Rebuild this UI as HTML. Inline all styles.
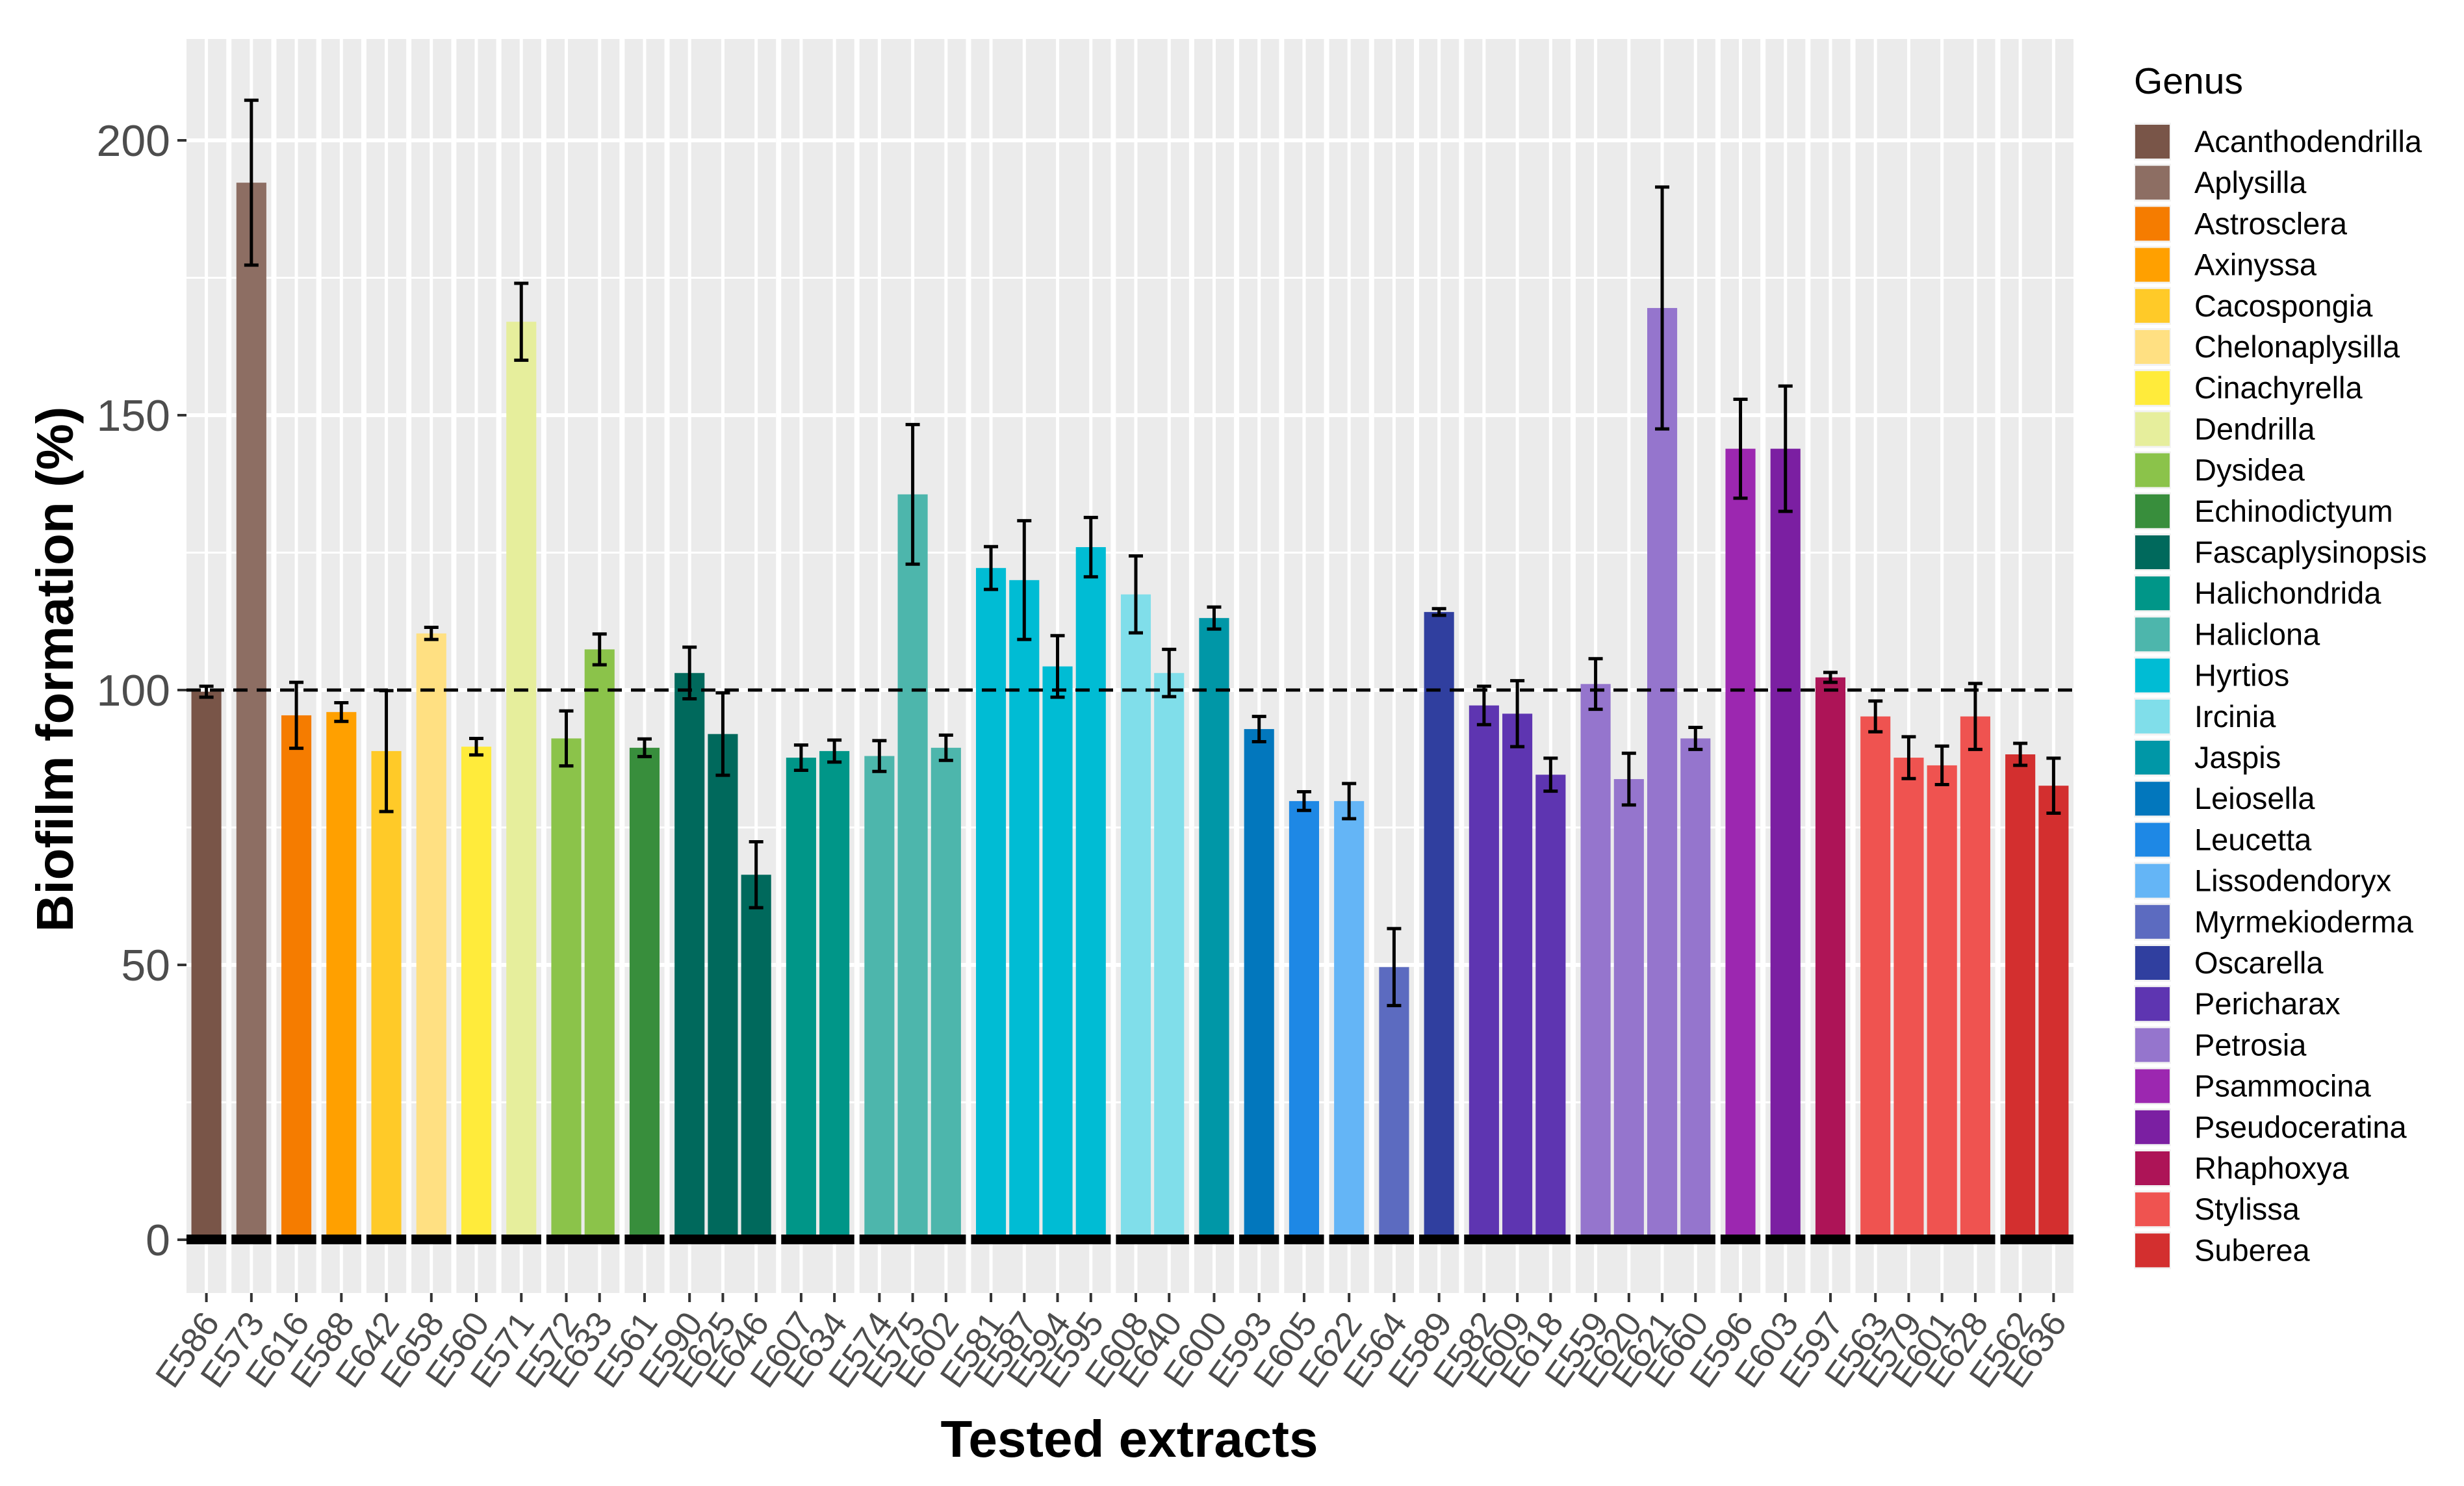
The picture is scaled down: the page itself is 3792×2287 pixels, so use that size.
<!DOCTYPE html>
<html><head><meta charset="utf-8">
<style>
html,body{margin:0;padding:0;background:#fff;}
svg{display:block;font-family:"Liberation Sans",Arial,sans-serif;}
</style></head>
<body>
<svg id="chart" width="3792" height="2287" viewBox="0 0 3792 2287" xmlns="http://www.w3.org/2000/svg"></svg>
<script>
const extracts = ["E586","E573","E616","E588","E642","E658","E560","E571","E572","E633","E561","E590","E625","E646","E607","E634","E574","E575","E602","E581","E587","E594","E595","E608","E640","E600","E593","E605","E622","E564","E589","E582","E609","E618","E559","E620","E621","E660","E596","E603","E597","E563","E579","E601","E628","E562","E636"];
const genusOf = ["Acanthodendrilla","Aplysilla","Astrosclera","Axinyssa","Cacospongia","Chelonaplysilla","Cinachyrella","Dendrilla","Dysidea","Dysidea","Echinodictyum","Fascaplysinopsis","Fascaplysinopsis","Fascaplysinopsis","Halichondrida","Halichondrida","Haliclona","Haliclona","Haliclona","Hyrtios","Hyrtios","Hyrtios","Hyrtios","Ircinia","Ircinia","Jaspis","Leiosella","Leucetta","Lissodendoryx","Myrmekioderma","Oscarella","Pericharax","Pericharax","Pericharax","Petrosia","Petrosia","Petrosia","Petrosia","Psammocina","Pseudoceratina","Rhaphoxya","Stylissa","Stylissa","Stylissa","Stylissa","Suberea","Suberea"];
const values = [99.7,192.3,95.4,96,88.9,110.3,89.7,167,91.2,107.4,89.5,103.1,92,66.4,87.7,88.9,88,135.6,89.5,122.2,120,104.3,126,117.4,103.1,113.1,92.9,79.8,79.8,49.6,114.2,97.2,95.7,84.6,101.1,83.8,169.5,91.2,143.9,143.9,102.3,95.2,87.7,86.3,95.2,88.3,82.6];
const errors = [1,15,6,1.7,11,1.1,1.5,7,5,2.8,1.6,4.7,7.5,6,2.3,2,2.8,12.7,2.3,3.9,10.8,5.6,5.4,7,4.3,2,2.3,1.7,3.2,7,0.6,3.5,6,3,4.6,4.7,22,2,9,11.4,0.9,2.8,3.8,3.5,6,2,5];
const genera = ["Acanthodendrilla","Aplysilla","Astrosclera","Axinyssa","Cacospongia","Chelonaplysilla","Cinachyrella","Dendrilla","Dysidea","Echinodictyum","Fascaplysinopsis","Halichondrida","Haliclona","Hyrtios","Ircinia","Jaspis","Leiosella","Leucetta","Lissodendoryx","Myrmekioderma","Oscarella","Pericharax","Petrosia","Psammocina","Pseudoceratina","Rhaphoxya","Stylissa","Suberea"];
const genusColors = ["#795548","#8D6E63","#F57C00","#FFA000","#FFCA28","#FFE082","#FFEB3B","#E6EE9C","#8BC34A","#388E3C","#00695C","#009688","#4DB6AC","#00BCD4","#80DEEA","#0097A7","#0277BD","#1E88E5","#64B5F6","#5C6BC0","#303F9F","#5E35B1","#9575CD","#9C27B0","#7B1FA2","#AD1457","#EF5350","#D32F2F"];
const yTicks = [0,50,100,150,200];
const yMinor = [25,75,125,175];
const refLine = 100;

const NS="http://www.w3.org/2000/svg";
const svg=document.getElementById('chart');
function mk(tag,attrs,parent){const e=document.createElementNS(NS,tag);for(const k in attrs)e.setAttribute(k,attrs[k]);(parent||svg).appendChild(e);return e;}

const panelL=287,panelR=3191,panelT=60,panelB=1990;
const y0px=1908,y200px=216;
function yScale(v){return y0px-(v/200)*(y0px-y200px);}

const facets=[];
extracts.forEach((e,i)=>{const g=genusOf[i];if(!facets.length||facets[facets.length-1].g!==g)facets.push({g:g,idx:[]});facets[facets.length-1].idx.push(i);});
const gap=8,pad=5;
const u=(panelR-panelL-(facets.length-1)*gap-facets.length*2*pad)/extracts.length;
const centers=[];
let cur=panelL;
facets.forEach(f=>{f.x0=cur;f.w=f.idx.length*u+2*pad;f.idx.forEach((i,k)=>{centers[i]=cur+pad+(k+0.5)*u;});cur+=f.w+gap;});
function colorOf(g){return genusColors[genera.indexOf(g)];}

facets.forEach(f=>{
  const bg=mk('rect',{x:f.x0,y:panelT,width:f.w,height:panelB-panelT,fill:'#EBEBEB'});
  
  
  yMinor.forEach(v=>{const l=mk('line',{x1:f.x0,x2:f.x0+f.w,y1:yScale(v),y2:yScale(v),stroke:'#fff','stroke-width':3});
    
    });
  yTicks.forEach(v=>{const l=mk('line',{x1:f.x0,x2:f.x0+f.w,y1:yScale(v),y2:yScale(v),stroke:'#fff','stroke-width':6});
    
    });
  f.idx.forEach(i=>{const l=mk('line',{x1:centers[i],x2:centers[i],y1:panelT,y2:panelB,stroke:'#fff','stroke-width':5});
    
    });
});

const bw=u*0.9;
extracts.forEach((e,i)=>{
  const top=yScale(values[i]);
  const r=mk('rect',{x:centers[i]-bw/2,y:top,width:bw,height:y0px-top,fill:colorOf(genusOf[i])});
  
  
});

facets.forEach(f=>{
  const b=mk('rect',{x:f.x0,y:y0px-8,width:f.w,height:15,fill:'#000'});
  
  
});

const ref=mk('line',{x1:panelL,x2:panelR,y1:yScale(refLine),y2:yScale(refLine),stroke:'#000','stroke-width':5,'stroke-dasharray':'22 14'});



extracts.forEach((e,i)=>{
  const g=mk('g',{stroke:'#000','stroke-width':5});
  
  
  const yt=yScale(values[i]+errors[i]),yb=yScale(values[i]-errors[i]),cx=centers[i];
  mk('line',{x1:cx,x2:cx,y1:yt,y2:yb},g);
  mk('line',{x1:cx-11,x2:cx+11,y1:yt,y2:yt},g);
  mk('line',{x1:cx-11,x2:cx+11,y1:yb,y2:yb},g);
});

yTicks.forEach(v=>{
  const t=mk('line',{x1:273,x2:287,y1:yScale(v),y2:yScale(v),stroke:'#333','stroke-width':4});
  
  
  const tx=mk('text',{x:262,y:yScale(v)+24,'text-anchor':'end','font-size':68,fill:'#4D4D4D'});
  tx.textContent=v;
  
  
});

extracts.forEach((e,i)=>{
  const t=mk('line',{x1:centers[i],x2:centers[i],y1:1990,y2:2004,stroke:'#333','stroke-width':4});
  
  
  const tx=mk('text',{transform:'translate('+(centers[i]+22)+',2036) rotate(-55)','text-anchor':'end','font-size':54,fill:'#4D4D4D'});
  tx.textContent=e;
  
  
});

const xt=mk('text',{x:1738,y:2242,'text-anchor':'middle','font-size':80,'font-weight':'bold',fill:'#000'});
xt.textContent='Tested extracts';


const yt=mk('text',{transform:'translate(112,1030) rotate(-90)','text-anchor':'middle','font-size':80,'font-weight':'bold',fill:'#000'});
yt.textContent='Biofilm formation (%)';



const lt=mk('text',{x:3284,y:144,'font-size':57,fill:'#000'});
lt.textContent='Genus';


genera.forEach((g,k)=>{
  const cy=218+k*63.2;
  const grp=mk('g',{});
  
  
  mk('rect',{x:3284,y:cy-29,width:57,height:58,fill:'#F2F2F2'},grp);
  mk('rect',{x:3286,y:cy-26,width:53,height:52,fill:genusColors[k]},grp);
  const tx=mk('text',{x:3377,y:cy+16,'font-size':47,fill:'#000'},grp);
  tx.textContent=g;
});
</script>
</body></html>
